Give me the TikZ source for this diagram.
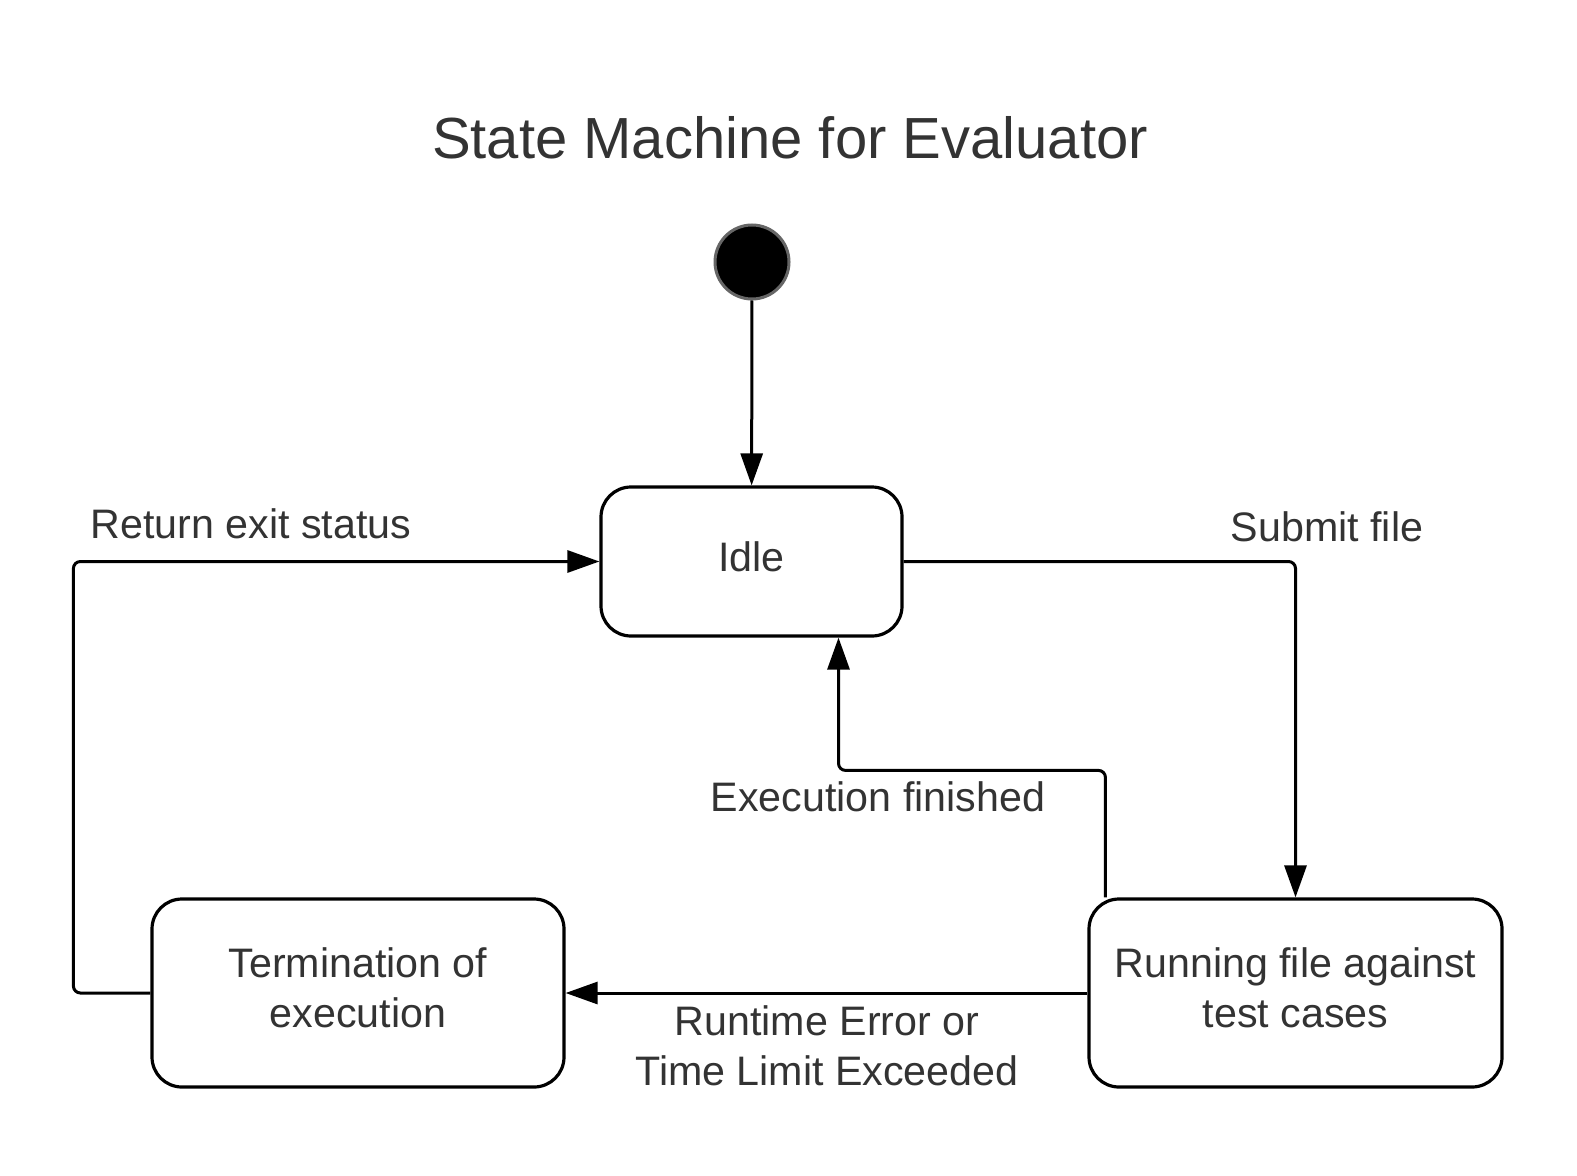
\documentclass[tikz,border=0pt]{standalone}
\usepackage{fontspec}
\setmainfont{Liberation Sans}
\usetikzlibrary{arrows.meta}
\definecolor{txtgray}{HTML}{333333}
\definecolor{rimgray}{HTML}{666666}
\begin{document}
\begin{tikzpicture}[x=0.5pt,y=-0.5pt,
    state/.style={draw,line width=1.6pt,rounded corners=15pt,align=center,text depth=5pt,text=txtgray,font=\fontsize{20.6}{25}\selectfont},
    lbl/.style={text=txtgray,align=center,font=\fontsize{20.6}{25}\selectfont},
    trans/.style={line width=1.5pt,rounded corners=3.5pt,-{Triangle[length=16pt,width=11pt]}}]
    \useasboundingbox (0,0) rectangle (1577,1176);

    \node[text=txtgray,font=\fontsize{29}{35}\selectfont] (title) at (790,138) {State Machine for Evaluator};
    \node[circle,fill=black,draw=rimgray,line width=1.5pt,minimum size=37pt,inner sep=0pt] (start) at (752,262) {};

    \node[state,minimum width=150.5pt,minimum height=74.5pt] (idle) at (751.5,561.5) {Idle};
    \node[state,minimum width=206pt,minimum height=94pt] (term) at (358,993) {Termination of\\execution};
    \node[state,minimum width=206.5pt,minimum height=94pt] (run) at (1295.5,993) {Running file against\\test cases};

    \draw[trans] (start) -- (idle);
    \draw[trans] (idle.east) -| (run.north);
    \draw[trans] (run.west) -- (term.east);
    \draw[trans] (term.west) -- ++(-77,0) |- (idle.west);
    \draw[trans] ([xshift=9pt]run.north west) -- ++(0,-127) -| ([xshift=43.5pt]idle.south);

    \node[lbl] (ret) at (251,524) {Return exit status};
    \node[lbl] (sub) at (1327,527) {Submit file};
    \node[lbl] (fin) at (878,797) {Execution finished};
    \node[lbl] (err) at (827,1046) {Runtime Error or\\Time Limit Exceeded};
\end{tikzpicture}
\end{document}
